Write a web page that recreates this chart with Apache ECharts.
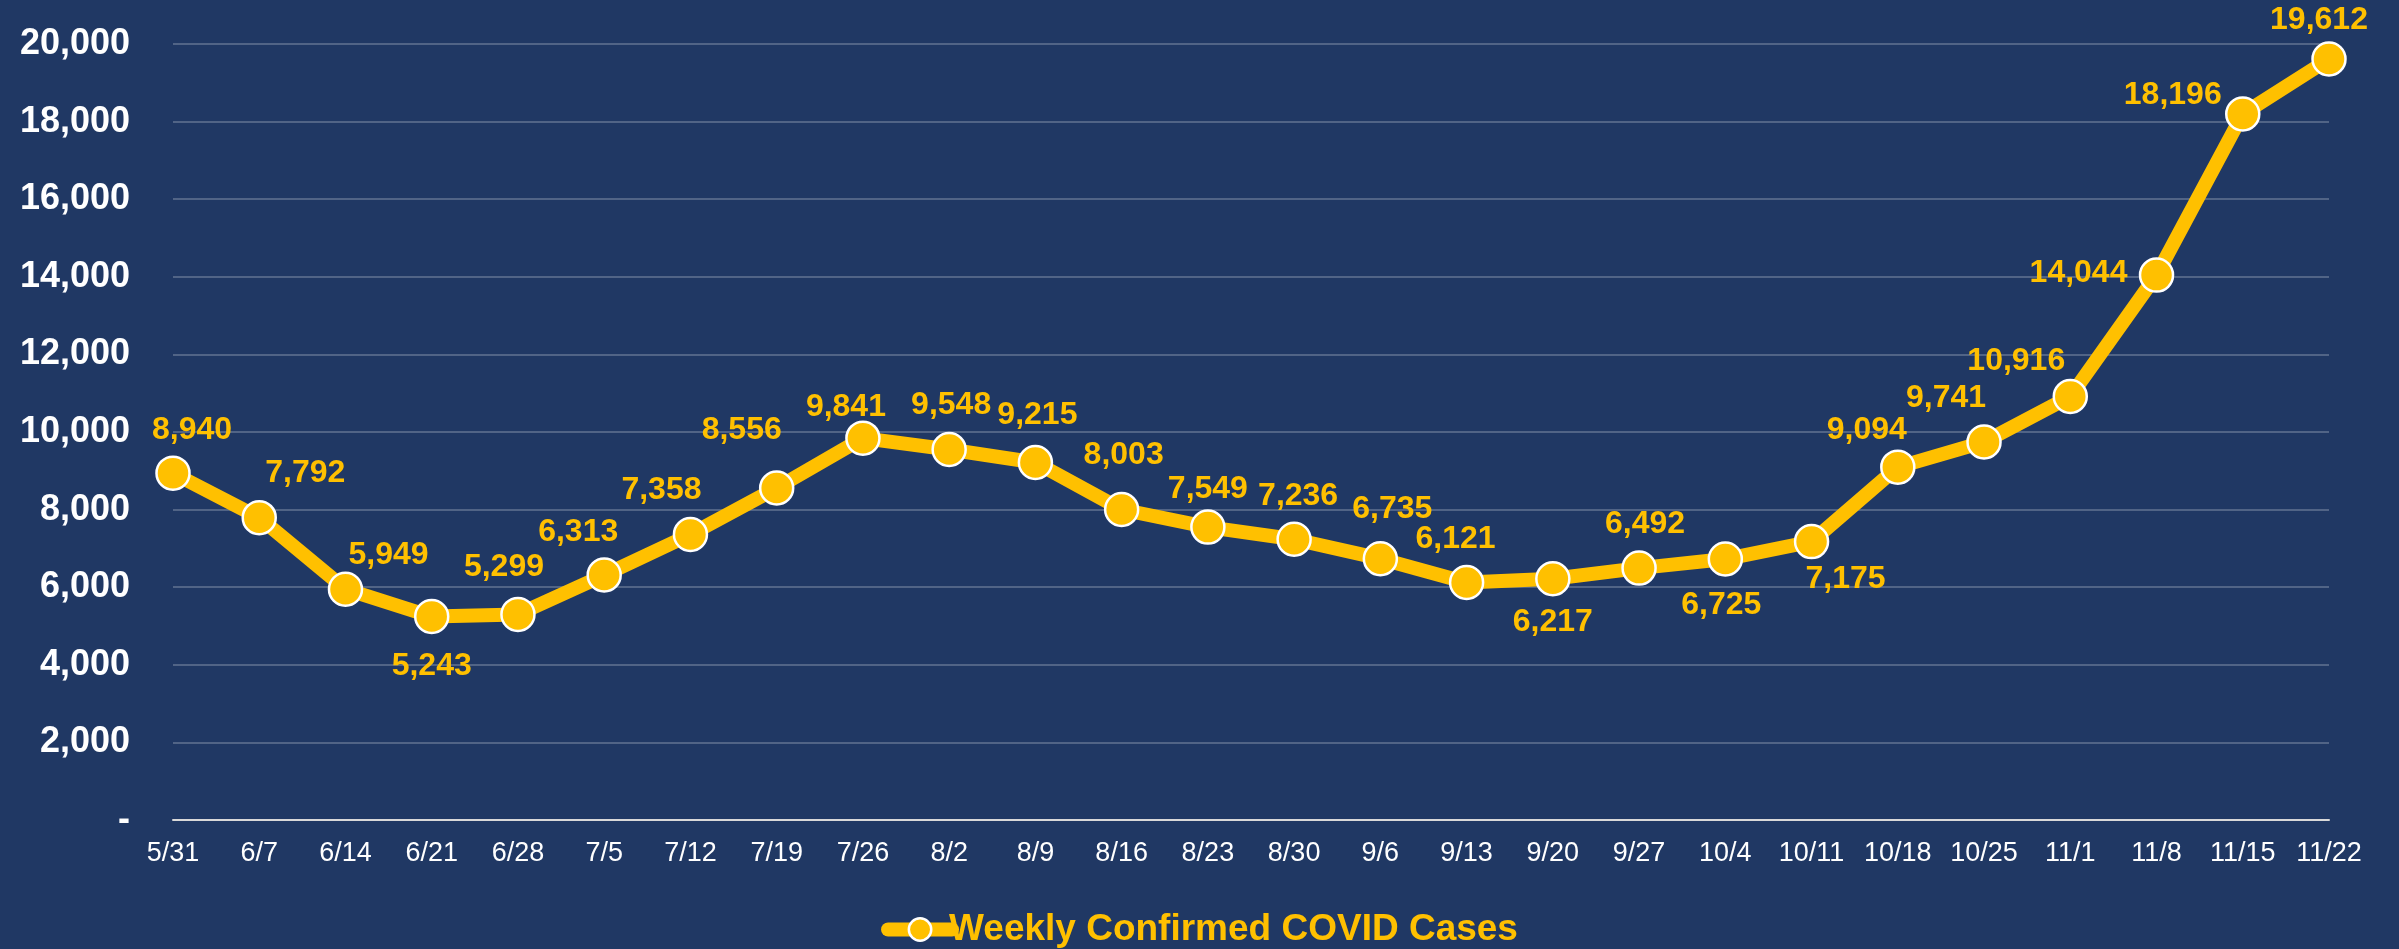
<!DOCTYPE html>
<html>
<head>
<meta charset="utf-8">
<script src="https://cdn.jsdelivr.net/npm/echarts@6/dist/echarts.min.js"></script>
<style>
  html, body { margin: 0; padding: 0; background: #203864; }
  #chart { width: 2399px; height: 949px; }
</style>
</head>
<body>
<div id="chart"></div>
<script>
const weeks = ['5/31', '6/7', '6/14', '6/21', '6/28', '7/5', '7/12', '7/19', '7/26', '8/2', '8/9',
    '8/16', '8/23', '8/30', '9/6', '9/13', '9/20', '9/27', '10/4', '10/11', '10/18', '10/25',
    '11/1', '11/8', '11/15', '11/22'];
const weeklyCases = [8940, 7792, 5949, 5243, 5299, 6313, 7358, 8556, 9841, 9548, 9215,
    8003, 7549, 7236, 6735, 6121, 6217, 6492, 6725, 7175, 9094, 9741,
    10916, 14044, 18196, 19612];
const seriesName = 'Weekly Confirmed COVID Cases';

// where each value label sits relative to its point (like the hand-moved Excel labels)
const labelOffsets = [
    [19, -43], [46, -44], [43, -34], [0, 50], [-14, -47], [-26, -43], [-29, -44], [-35, -58],
    [-17, -31], [2, -44], [2, -47], [2, -54], [0, -38], [4, -43], [12, -50], [-11, -43],
    [0, 43], [6, -44], [-4, 46], [34, 38], [-31, -37], [-38, -44], [-54, -35], [-78, -2],
    [-70, -19], [-10, -39]
];

const chart = echarts.init(document.getElementById('chart'));

const fmt = function (v) { return v === 0 ? '-' : v.toLocaleString('en-US'); };

const option = {
    backgroundColor: '#203864',
    textStyle: { fontFamily: '"Liberation Sans", Arial, sans-serif' },
    grid: { left: 173, right: 70, top: 44, bottom: 129 },
    legend: {
        bottom: -4,
        left: 'center',
        itemWidth: 64,
        itemHeight: 28,
        itemGap: 0,
        lineStyle: { width: 14, cap: 'round' },
        itemStyle: { borderColor: '#FFFFFF', borderWidth: 2.5 },
        textStyle: { color: '#FFC000', fontSize: 37, fontWeight: 'bold', padding: [0, 0, 0, -8] },
        data: [seriesName]
    },
    xAxis: {
        type: 'category',
        data: weeks,
        boundaryGap: false,
        axisLine: { lineStyle: { color: '#D9D9D9', width: 2 } },
        axisTick: { show: false },
        axisLabel: { color: '#FFFFFF', fontSize: 27, margin: 20, interval: 0 }
    },
    yAxis: {
        type: 'value',
        min: 0,
        max: 20000,
        interval: 2000,
        axisLine: { show: false },
        axisTick: { show: false },
        axisLabel: { color: '#FFFFFF', fontSize: 36, fontWeight: 'bold', margin: 43, formatter: fmt },
        splitLine: { lineStyle: { color: 'rgba(255,255,255,0.3)', width: 1.5 } }
    },
    series: [{
        name: seriesName,
        type: 'line',
        data: weeklyCases.map(function (v, i) {
            return { value: v, label: { offset: labelOffsets[i] } };
        }),
        lineStyle: { color: '#FFC000', width: 14 },
        itemStyle: { color: '#FFC000', borderColor: '#FFFFFF', borderWidth: 2.5 },
        symbol: 'circle',
        symbolSize: 33,
        label: {
            show: true,
            position: 'inside',
            color: '#FFC000',
            fontSize: 32,
            fontWeight: 'bold',
            formatter: function (p) { return fmt(p.value); }
        },
        emphasis: { disabled: true },
        z: 3
    }]
};

chart.setOption(option);
</script>
</body>
</html>
